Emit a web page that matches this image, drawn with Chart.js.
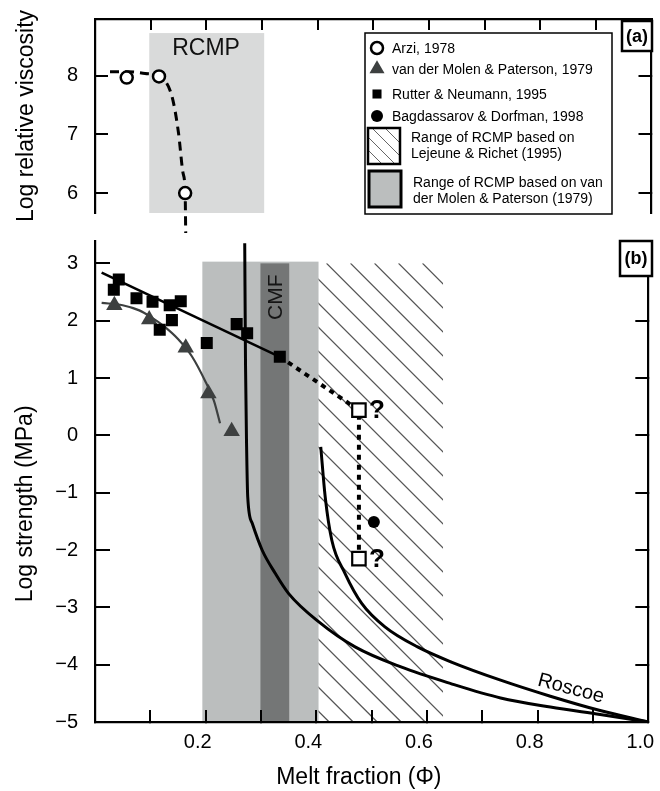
<!DOCTYPE html>
<html>
<head>
<meta charset="utf-8">
<script src="https://cdn.jsdelivr.net/npm/chart.js@4/dist/chart.umd.min.js"></script>
<style>
  body { margin: 0; background: #fff; }
  #wrap { position: relative; width: 660px; height: 791px; }
  canvas { position: absolute; left: 0; top: 0; }
  #viscosity { pointer-events: none; }
</style>
</head>
<body>
<div id="wrap">
  <canvas id="strength" width="660" height="791"></canvas>
  <canvas id="viscosity" width="660" height="791"></canvas>
</div>
<script>
// axis ranges
const meltRange = [0, 1];
const viscosityRange = [5.66, 8.97];
const strengthRange = [-5, 3.39];
const meltTickLabels = ['0.2', '0.4', '0.6', '0.8', '1.0'];

// (a) Arzi, 1978
const arziPoints = [
  { x: 0.057, y: 7.97 },
  { x: 0.115, y: 7.99 },
  { x: 0.162, y: 6.0 }
];
const arziTrend = [
  { x: 0.027, y: 8.07 }, { x: 0.06, y: 8.07 }, { x: 0.09, y: 8.04 },
  { x: 0.115, y: 7.99 }, { x: 0.138, y: 7.66 }, { x: 0.150, y: 7.03 },
  { x: 0.158, y: 6.35 }, { x: 0.162, y: 6.0 }, { x: 0.163, y: 5.32 }
];
const rcmpArziX = [0.0975, 0.304];
const rcmpArziY = [5.66, 8.73];

// (b) Rutter & Neumann, 1995
const rutterPoints = [
  { x: 0.034, y: 2.54 }, { x: 0.043, y: 2.72 }, { x: 0.075, y: 2.39 },
  { x: 0.104, y: 2.33 }, { x: 0.135, y: 2.27 }, { x: 0.155, y: 2.34 },
  { x: 0.117, y: 1.84 }, { x: 0.139, y: 2.01 }, { x: 0.202, y: 1.61 },
  { x: 0.256, y: 1.94 }, { x: 0.275, y: 1.78 }, { x: 0.334, y: 1.37 }
];
const rutterTrend = [{ x: 0.012, y: 2.84 }, { x: 0.334, y: 1.37 }];
const extrapolated = [{ x: 0.334, y: 1.37 }, { x: 0.477, y: 0.44 }, { x: 0.477, y: -2.15 }];
const extrapolatedEnds = [{ x: 0.477, y: 0.44 }, { x: 0.477, y: -2.15 }];

// van der Molen & Paterson, 1979
const molenPoints = [
  { x: 0.035, y: 2.27 }, { x: 0.098, y: 2.02 }, { x: 0.164, y: 1.53 },
  { x: 0.205, y: 0.73 }, { x: 0.247, y: 0.07 }
];
const molenTrend = [
  { x: 0.012, y: 2.31 }, { x: 0.05, y: 2.27 }, { x: 0.08, y: 2.18 },
  { x: 0.1, y: 2.07 }, { x: 0.125, y: 1.9 }, { x: 0.15, y: 1.68 },
  { x: 0.175, y: 1.38 }, { x: 0.2, y: 0.93 }, { x: 0.215, y: 0.6 },
  { x: 0.226, y: 0.21 }
];

// Bagdassarov & Dorfman, 1998
const bagdassarovPoints = [{ x: 0.504, y: -1.51 }];

// model curves
const strengthCurve = [
  { x: 0.2706, y: 3.35 }, { x: 0.272, y: 1.26 }, { x: 0.274, y: -0.2 },
  { x: 0.276, y: -1.07 }, { x: 0.284, y: -1.53 }, { x: 0.302, y: -2.0 },
  { x: 0.326, y: -2.41 }, { x: 0.35, y: -2.76 }, { x: 0.404, y: -3.25 },
  { x: 0.47, y: -3.69 }, { x: 0.553, y: -4.04 }, { x: 0.643, y: -4.33 },
  { x: 0.733, y: -4.58 }, { x: 0.823, y: -4.74 }, { x: 0.913, y: -4.87 },
  { x: 1.0, y: -5.0 }
];
const roscoeCurve = [
  { x: 0.408, y: -0.2 }, { x: 0.416, y: -1.07 }, { x: 0.428, y: -1.83 },
  { x: 0.452, y: -2.41 }, { x: 0.482, y: -2.93 }, { x: 0.524, y: -3.34 },
  { x: 0.583, y: -3.69 }, { x: 0.643, y: -3.95 }, { x: 0.733, y: -4.27 },
  { x: 0.823, y: -4.55 }, { x: 0.913, y: -4.8 }, { x: 1.0, y: -5.0 }
];

// shaded ranges in (b)
const rcmpMolenX = [0.194, 0.404];
const rcmpMolenY = [-5, 3.03];
const cmfX = [0.299, 0.351];
const cmfY = [-5, 3.0];
const rcmpLejeuneX = [0.404, 0.629];
const rcmpLejeuneY = [-5, 3.0];

const legendLabels = [
  'Arzi, 1978',
  'van der Molen & Paterson, 1979',
  'Rutter & Neumann, 1995',
  'Bagdassarov & Dorfman, 1998'
];
const legendRangeLabels = [
  ['Range of RCMP based on', 'Lejeune & Richet (1995)'],
  ['Range of RCMP based on van', 'der Molen & Paterson (1979)']
];

const FONT = "'Liberation Sans', Arial, Helvetica, sans-serif";
Chart.defaults.font.family = FONT;
Chart.defaults.color = '#000';

const LIGHT_GREY = '#bbbebe';
const DARK_GREY = '#747676';
const TRIANGLE_GREY = '#3d4040';

function fitTo(prop, size) {
  return scale => {
    scale[prop] = size;
    scale.paddingLeft = scale.paddingRight = scale.paddingTop = scale.paddingBottom = 0;
  };
}

const minusSign = value => String(value).replace('-', '\u2212');

// axis with tick marks pointing into the plot
function inwardAxis(position, range, step, tickLength, size, ticks, title) {
  return {
    type: 'linear',
    position,
    min: range[0],
    max: range[1],
    grid: { drawOnChartArea: false, drawTicks: true, tickLength: -tickLength, color: '#000', lineWidth: 2 },
    border: { display: true, color: '#000', width: 2.2 },
    ticks: Object.assign({ display: false, stepSize: step, includeBounds: false, autoSkip: false, maxRotation: 0 }, ticks || {}),
    title: title || { display: false },
    afterFit: fitTo(position === 'left' || position === 'right' ? 'width' : 'height', size)
  };
}

function fillBand(ctx, xs, ys, xr, yr, color) {
  const left = xs.getPixelForValue(xr[0]);
  const right = xs.getPixelForValue(xr[1]);
  const top = ys.getPixelForValue(yr[1]);
  const bottom = ys.getPixelForValue(yr[0]);
  ctx.fillStyle = color;
  ctx.fillRect(left, top, right - left, bottom - top);
}

function hatch(ctx, left, top, right, bottom, gap, phaseX) {
  ctx.save();
  ctx.beginPath();
  ctx.rect(left, top, right - left, bottom - top);
  ctx.clip();
  ctx.beginPath();
  const h = bottom - top;
  const start = phaseX - Math.ceil((phaseX - (left - h)) / gap) * gap;
  for (let s = start; s <= right; s += gap) {
    ctx.moveTo(s, top);
    ctx.lineTo(s + h, bottom);
  }
  ctx.stroke();
  ctx.restore();
}

function panelTag(ctx, text, x, y, w, h) {
  ctx.save();
  ctx.fillStyle = '#fff';
  ctx.fillRect(x, y, w, h);
  ctx.lineWidth = 2.5;
  ctx.strokeStyle = '#000';
  ctx.strokeRect(x, y, w, h);
  ctx.fillStyle = '#000';
  ctx.font = 'bold 18px ' + FONT;
  ctx.textAlign = 'center';
  ctx.textBaseline = 'middle';
  ctx.fillText(text, x + w / 2, y + h / 2 + 1);
  ctx.restore();
}

function drawLegend(ctx) {
  const { drawPoint } = Chart.helpers;
  ctx.save();
  ctx.fillStyle = '#fff';
  ctx.fillRect(365, 33, 247, 181);
  ctx.lineWidth = 1.5;
  ctx.strokeStyle = '#000';
  ctx.strokeRect(365, 33, 247, 181);

  const rows = [48, 69, 94, 116];
  const markers = [
    { pointStyle: 'circle', radius: 6, fill: '#fff', border: 2.5 },
    { pointStyle: 'triangle', radius: 8.7, fill: TRIANGLE_GREY, border: 0 },
    { pointStyle: 'rect', radius: 6.4, fill: '#000', border: 0 },
    { pointStyle: 'circle', radius: 6, fill: '#000', border: 0 }
  ];
  ctx.font = '14px ' + FONT;
  ctx.textBaseline = 'middle';
  markers.forEach((m, i) => {
    ctx.fillStyle = m.fill;
    ctx.strokeStyle = '#000';
    ctx.lineWidth = m.border;
    drawPoint(ctx, { pointStyle: m.pointStyle, radius: m.radius, rotation: 0, borderWidth: m.border }, 377, rows[i]);
    ctx.fillStyle = '#000';
    ctx.fillText(legendLabels[i], 392, rows[i] + 1);
  });

  // hatched swatch
  ctx.strokeStyle = '#666';
  ctx.lineWidth = 1;
  hatch(ctx, 368, 128, 400, 164, 13, 372);
  ctx.strokeStyle = '#000';
  ctx.lineWidth = 2.5;
  ctx.strokeRect(368, 128, 32, 36);
  ctx.fillStyle = '#000';
  ctx.fillText(legendRangeLabels[0][0], 411, 138);
  ctx.fillText(legendRangeLabels[0][1], 411, 154);

  // grey swatch
  ctx.fillStyle = LIGHT_GREY;
  ctx.fillRect(369, 171, 32, 36);
  ctx.lineWidth = 3;
  ctx.strokeRect(369, 171, 32, 36);
  ctx.fillStyle = '#000';
  ctx.fillText(legendRangeLabels[1][0], 413, 183);
  ctx.fillText(legendRangeLabels[1][1], 413, 199);
  ctx.restore();
}

const viscosityDecor = {
  id: 'viscosityDecor',
  beforeDraw(chart) {
    const { ctx, scales: { x, y } } = chart;
    ctx.save();
    fillBand(ctx, x, y, rcmpArziX, rcmpArziY, '#d9dada');
    ctx.restore();
  },
  beforeDatasetsDraw(chart) {
    const { ctx, scales: { x, y } } = chart;
    ctx.save();
    ctx.font = '23px ' + FONT;
    ctx.fillStyle = '#111';
    ctx.textAlign = 'center';
    ctx.textBaseline = 'middle';
    ctx.fillText('RCMP', x.getPixelForValue(0.1995), y.getPixelForValue(8.46));
    ctx.restore();
  },
  afterDraw(chart) {
    drawLegend(chart.ctx);
    panelTag(chart.ctx, '(a)', 622, 21, 30, 30);
  }
};

const strengthDecor = {
  id: 'strengthDecor',
  beforeDraw(chart) {
    const { ctx, scales: { x, y } } = chart;
    ctx.save();
    fillBand(ctx, x, y, rcmpMolenX, rcmpMolenY, LIGHT_GREY);
    fillBand(ctx, x, y, cmfX, cmfY, DARK_GREY);
    ctx.strokeStyle = '#555';
    ctx.lineWidth = 1.3;
    const left = x.getPixelForValue(rcmpLejeuneX[0]);
    const right = x.getPixelForValue(rcmpLejeuneX[1]);
    const top = y.getPixelForValue(rcmpLejeuneY[1]);
    const bottom = y.getPixelForValue(rcmpLejeuneY[0]);
    hatch(ctx, left, top, right, bottom, 24, left + 8);
    ctx.restore();
  },
  beforeDatasetsDraw(chart) {
    const { ctx, scales: { x, y } } = chart;
    ctx.save();
    ctx.font = '21px ' + FONT;
    ctx.fillStyle = '#151515';
    ctx.textAlign = 'center';
    ctx.textBaseline = 'middle';
    ctx.translate(x.getPixelForValue(0.328), y.getPixelForValue(2.41));
    ctx.rotate(-Math.PI / 2);
    ctx.fillText('CMF', 0, 0);
    ctx.restore();
  },
  afterDatasetsDraw(chart) {
    const { ctx, scales: { x, y } } = chart;
    ctx.save();
    ctx.fillStyle = '#000';
    ctx.font = 'bold 26px ' + FONT;
    ctx.textAlign = 'left';
    ctx.textBaseline = 'middle';
    extrapolatedEnds.forEach(p => {
      ctx.fillText('?', x.getPixelForValue(p.x) + 10, y.getPixelForValue(p.y) + 1);
    });
    ctx.font = '20px ' + FONT;
    ctx.textAlign = 'center';
    ctx.translate(x.getPixelForValue(0.86), y.getPixelForValue(-4.42));
    ctx.rotate(15 * Math.PI / 180);
    ctx.fillText('Roscoe', 0, 0);
    ctx.restore();
  },
  afterDraw(chart) {
    panelTag(chart.ctx, '(b)', 620, 241, 32, 35);
  }
};

const baseOptions = {
  responsive: false,
  animation: false,
  events: [],
  plugins: { legend: { display: false }, tooltip: { enabled: false } }
};

new Chart(document.getElementById('viscosity'), {
  type: 'scatter',
  data: {
    datasets: [
      {
        data: arziPoints,
        pointStyle: 'circle',
        pointRadius: 6,
        pointBackgroundColor: '#fff',
        pointBorderColor: '#000',
        pointBorderWidth: 2.5
      },
      {
        data: arziTrend,
        showLine: true,
        pointRadius: 0,
        borderColor: '#000',
        borderWidth: 3,
        borderDash: [9, 6],
        cubicInterpolationMode: 'monotone',
        clip: false
      }
    ]
  },
  options: Object.assign({}, baseOptions, {
    layout: { padding: { top: 0, left: 0, right: 0, bottom: 578 } },
    scales: {
      x: inwardAxis('top', meltRange, 0.1, 11, 19),
      y: inwardAxis('left', viscosityRange, 1, 13, 95,
        { display: true, font: { size: 20 }, padding: 30, callback: minusSign },
        { display: true, text: 'Log relative viscosity', font: { size: 23 }, padding: { top: 13, bottom: 0 } }),
      yRight: inwardAxis('right', viscosityRange, 1, 13, 8)
    }
  }),
  plugins: [viscosityDecor]
});

new Chart(document.getElementById('strength'), {
  type: 'scatter',
  data: {
    datasets: [
      {
        data: extrapolatedEnds,
        pointStyle: 'rect',
        pointRadius: 9.5,
        pointBackgroundColor: '#fff',
        pointBorderColor: '#000',
        pointBorderWidth: 2.2
      },
      {
        data: bagdassarovPoints,
        pointStyle: 'circle',
        pointRadius: 6,
        pointBackgroundColor: '#000',
        pointBorderWidth: 0
      },
      {
        data: rutterPoints,
        pointStyle: 'rect',
        pointRadius: 8.5,
        pointBackgroundColor: '#000',
        pointBorderWidth: 0
      },
      {
        data: molenPoints,
        pointStyle: 'triangle',
        pointRadius: 9.5,
        pointBackgroundColor: TRIANGLE_GREY,
        pointBorderWidth: 0
      },
      {
        data: rutterTrend,
        showLine: true,
        pointRadius: 0,
        borderColor: '#000',
        borderWidth: 2.5
      },
      {
        data: extrapolated,
        showLine: true,
        pointRadius: 0,
        borderColor: '#000',
        borderWidth: 4,
        borderDash: [5, 5]
      },
      {
        data: molenTrend,
        showLine: true,
        pointRadius: 0,
        borderColor: TRIANGLE_GREY,
        borderWidth: 2.2,
        cubicInterpolationMode: 'monotone'
      },
      {
        data: strengthCurve,
        showLine: true,
        pointRadius: 0,
        borderColor: '#000',
        borderWidth: 3,
        cubicInterpolationMode: 'monotone'
      },
      {
        data: roscoeCurve,
        showLine: true,
        pointRadius: 0,
        borderColor: '#000',
        borderWidth: 3,
        cubicInterpolationMode: 'monotone'
      }
    ]
  },
  options: Object.assign({}, baseOptions, {
    layout: { padding: { top: 241, left: 0, right: 0, bottom: 0 } },
    scales: {
      x: inwardAxis('bottom', meltRange, 0.1, 12, 69,
        {
          display: true,
          font: { size: 20 },
          padding: 20,
          labelOffset: -8,
          callback: value => meltTickLabels.find(t => Math.abs(Number(t) - value) < 1e-6) || ''
        },
        { display: true, text: 'Melt fraction (\u03a6)' + '\u00a0'.repeat(4), font: { size: 23 }, padding: { top: 0, bottom: 0 } }),
      y: inwardAxis('left', strengthRange, 1, 15, 95,
        { display: true, font: { size: 20 }, padding: 32, callback: minusSign },
        { display: true, text: 'Log strength (MPa)' + '\u00a0'.repeat(7), font: { size: 23 }, padding: { top: 12, bottom: 0 } }),
      yRight: inwardAxis('right', strengthRange, 1, 13, 8)
    }
  }),
  plugins: [strengthDecor]
});
</script>
</body>
</html>
